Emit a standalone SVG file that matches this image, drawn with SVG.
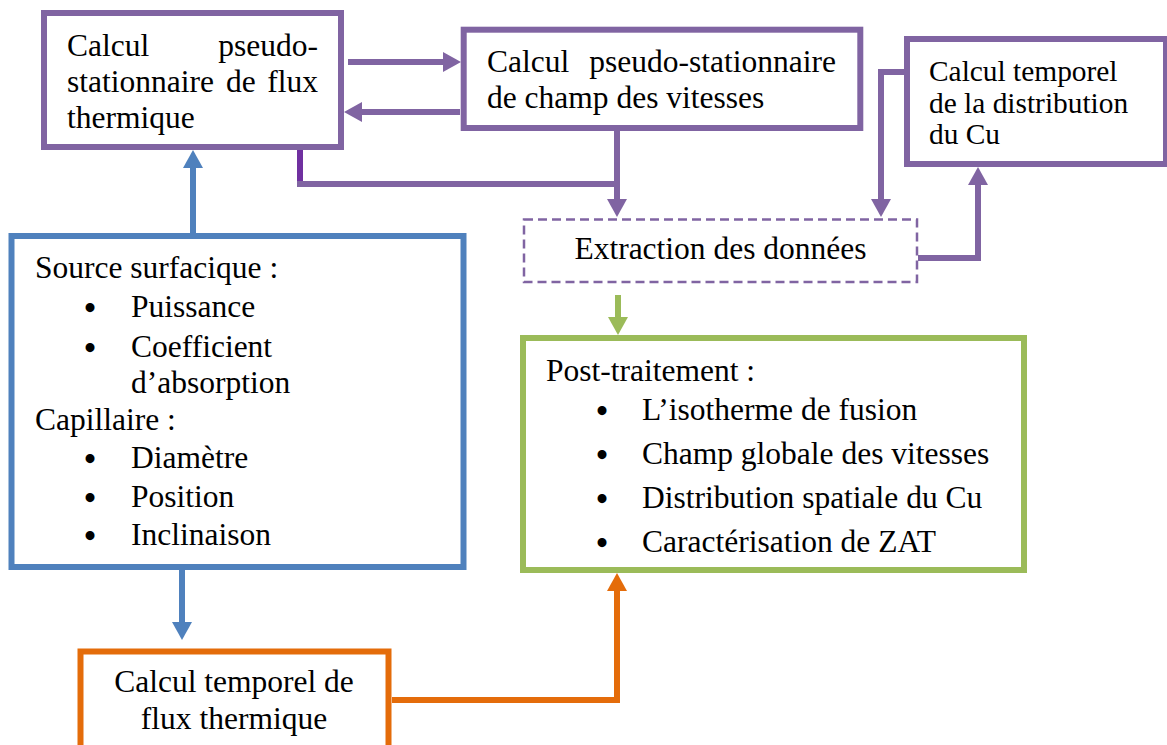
<svg xmlns="http://www.w3.org/2000/svg" width="1167" height="745" viewBox="0 0 1167 745">
<style>
text{font-family:"Liberation Serif","Times New Roman",serif;font-size:31.5px;fill:#000}
.sm{font-size:29.4px}
.bul{font-size:33px;font-weight:bold}
.box{fill:#fff;stroke-width:6}
.pu{stroke:#8064A2}
.bl{stroke:#4F81BD}
.gr{stroke:#9BBB59}
.or{stroke:#E46C0A}
.ln{fill:none;stroke-width:6;stroke-linejoin:miter;stroke-linecap:butt}
</style>
<defs>
<marker id="mPu" markerUnits="userSpaceOnUse" markerWidth="20" markerHeight="20" refX="0" refY="10" orient="auto" overflow="visible"><path d="M0,0 L18,10 L0,20 z" fill="#8064A2"/></marker>
<marker id="mBl" markerUnits="userSpaceOnUse" markerWidth="20" markerHeight="20" refX="0" refY="10" orient="auto" overflow="visible"><path d="M0,0 L18,10 L0,20 z" fill="#4F81BD"/></marker>
<marker id="mGr" markerUnits="userSpaceOnUse" markerWidth="20" markerHeight="20" refX="0" refY="10" orient="auto" overflow="visible"><path d="M0,0 L18,10 L0,20 z" fill="#9BBB59"/></marker>
<marker id="mOr" markerUnits="userSpaceOnUse" markerWidth="20" markerHeight="20" refX="0" refY="10" orient="auto" overflow="visible"><path d="M0,0 L18,10 L0,20 z" fill="#E46C0A"/></marker>
</defs>

<g id="connectors">
<path class="ln pu" d="M348,62 H443" marker-end="url(#mPu)"/>
<path class="ln pu" d="M460,112 H362" marker-end="url(#mPu)"/>
<path class="ln" stroke="#7030A0" d="M300,147 V184"/>
<path class="ln pu" d="M297,184 H617"/>
<path class="ln pu" d="M617,131 V199" marker-end="url(#mPu)"/>
<path class="ln pu" d="M904,72 H881 V199" marker-end="url(#mPu)"/>
<path class="ln pu" d="M918,258 H978 V185" marker-end="url(#mPu)"/>
<path class="ln gr" stroke-width="5" d="M618,295 V317" marker-end="url(#mGr)"/>
<path class="ln bl" d="M193,233 V168" marker-end="url(#mBl)"/>
<path class="ln bl" d="M182,570 V622" marker-end="url(#mBl)"/>
<path class="ln or" d="M392,700 H617 V591" marker-end="url(#mOr)"/>
</g>

<g id="flux-pseudo">
<rect class="box pu" x="44" y="13" width="297" height="134"/>
<text x="67" y="56">Calcul</text>
<text x="318" y="56" text-anchor="end">pseudo-</text>
<text x="67" y="92">stationnaire</text>
<text x="226" y="92">de</text>
<text x="318" y="92" text-anchor="end">flux</text>
<text x="67" y="128">thermique</text>
</g>

<g id="vitesses-pseudo">
<rect class="box pu" x="463.7" y="29.7" width="396.6" height="98.3"/>
<text x="487" y="72">Calcul</text>
<text x="836" y="72" text-anchor="end">pseudo-stationnaire</text>
<text x="487" y="108">de champ des vitesses</text>
</g>

<g id="distribution-cu">
<rect class="box pu" x="907" y="39" width="259" height="125"/>
<text class="sm" x="929" y="80.5">Calcul temporel</text>
<text class="sm" x="929" y="112.5">de la distribution</text>
<text class="sm" x="929" y="143.5">du Cu</text>
</g>

<g id="extraction">
<rect x="524" y="219.5" width="393" height="62.5" fill="#fff" stroke="#8064A2" stroke-width="2.5" stroke-dasharray="9 5"/>
<text x="720.5" y="259" text-anchor="middle">Extraction des données</text>
</g>

<g id="source">
<rect class="box bl" x="11.5" y="236" width="452" height="331"/>
<text x="35" y="278">Source surfacique :</text>
<text class="bul" x="90" y="319" text-anchor="middle">•</text>
<text x="131" y="317">Puissance</text>
<text class="bul" x="90" y="359" text-anchor="middle">•</text>
<text x="131" y="357">Coefficient</text>
<text x="131" y="393">d’absorption</text>
<text x="35" y="430">Capillaire :</text>
<text class="bul" x="90" y="470" text-anchor="middle">•</text>
<text x="131" y="468">Diamètre</text>
<text class="bul" x="90" y="509" text-anchor="middle">•</text>
<text x="131" y="507">Position</text>
<text class="bul" x="90" y="547" text-anchor="middle">•</text>
<text x="131" y="545">Inclinaison</text>
</g>

<g id="post-traitement">
<rect class="box gr" x="523" y="338" width="501" height="232"/>
<text x="546" y="381">Post-traitement :</text>
<text class="bul" x="602" y="422" text-anchor="middle">•</text>
<text x="642" y="420">L’isotherme de fusion</text>
<text class="bul" x="602" y="466" text-anchor="middle">•</text>
<text x="642" y="464">Champ globale des vitesses</text>
<text class="bul" x="602" y="510" text-anchor="middle">•</text>
<text x="642" y="508">Distribution spatiale du Cu</text>
<text class="bul" x="602" y="554" text-anchor="middle">•</text>
<text x="642" y="552">Caractérisation de ZAT</text>
</g>

<g id="flux-temporel">
<rect class="box or" x="80.5" y="651.5" width="308" height="97"/>
<text x="234" y="692" text-anchor="middle">Calcul temporel de</text>
<text x="234" y="728.5" text-anchor="middle">flux thermique</text>
</g>
</svg>
